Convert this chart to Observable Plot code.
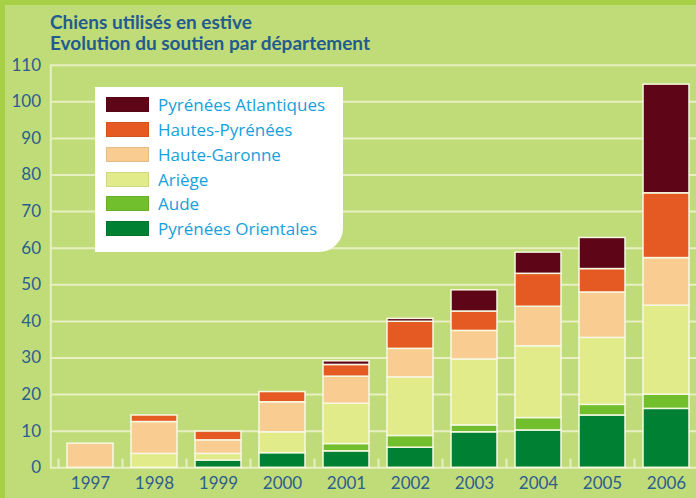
<!DOCTYPE html>
<html>
<head>
<meta charset="utf-8">
<script src="https://cdn.jsdelivr.net/npm/d3@7"></script>
<script src="https://cdn.jsdelivr.net/npm/@observablehq/plot@0.6"></script>
<style>
  html, body { margin: 0; padding: 0; }
  body { width: 696px; height: 498px; overflow: hidden; background: #bfdc78; }
  #wrap { position: relative; width: 696px; height: 498px; background: #bfdc78;
          box-shadow: inset 5px 5px 0 #a8d046; }
  #title { position: absolute; left: 50px; top: 11px; font-family: Lato, "Open Sans", sans-serif;
           font-weight: bold; font-size: 19px; line-height: 21px; color: #245b8e; }
  #title div { white-space: nowrap; }
  #chart { position: absolute; left: -5px; top: 50px; }
  #legend { position: absolute; left: 95px; top: 87px; width: 248px; height: 165px; background: #fff;
            border-bottom-right-radius: 24px; font-family: "Open Sans", Lato, sans-serif; }
  .row { position: absolute; left: 11px; height: 25px; display: flex; align-items: center; }
  .sw { width: 43px; height: 15px; margin-right: 9px; box-sizing: border-box; border: 1px solid rgba(0,0,0,0.08); }
  .lab { font-size: 17px; color: #16a0dc; }
</style>
</head>
<body>
<div id="wrap">
  <div id="title"><div>Chiens utilisés en estive</div><div>Evolution du soutien par département</div></div>
  <div id="chart"></div>
  <div id="legend"></div>
</div>
<script>
const years = ["1997","1998","1999","2000","2001","2002","2003","2004","2005","2006"];
const departements = ["Pyrénées Orientales","Aude","Ariège","Haute-Garonne","Hautes-Pyrénées","Pyrénées Atlantiques"];
const couleurs = ["#008033","#72bf2d","#e1eb89","#f9cc92","#e55a22","#5e0618"];
const pyreneesOrientales  = [0,   0,   2.0, 4.0, 4.5, 5.5, 9.7, 10.2, 14.3, 16.1];
const aude                = [0,   0,   0,   0,   2.0, 3.2, 1.9, 3.4,  2.9,  3.9];
const ariege              = [0,   3.8, 1.8, 5.7, 11.0,16.0,18.0,19.6, 18.3, 24.3];
const hauteGaronne        = [6.6, 8.7, 3.7, 8.2, 7.4, 7.8, 7.8, 10.8, 12.4, 13.0];
const hautesPyrenees      = [0,   1.8, 2.4, 2.8, 3.2, 7.4, 5.3, 9.0,  6.4,  17.7];
const pyreneesAtlantiques = [0,   0,   0,   0,   1.0, 0.8, 5.8, 5.8,  8.5,  29.7];
const yTicks = [0,10,20,30,40,50,60,70,80,90,100,110];

const series = [pyreneesOrientales, aude, ariege, hauteGaronne, hautesPyrenees, pyreneesAtlantiques];
const data = [];
series.forEach((vals, k) => vals.forEach((v, i) => { if (v > 0) data.push({year: years[i], dept: departements[k], value: v}); }));

const gridColor = "#e8efc2";
const textColor = "#2d5e8e";

const chart = Plot.plot({
  width: 701,
  height: 448,
  marginTop: 14.7,
  marginBottom: 30.7,
  marginLeft: 55,
  marginRight: 0,
  style: {background: "transparent", fontFamily: "Lato, 'Open Sans', sans-serif", overflow: "visible"},
  x: {domain: years, range: [62.7, 702.7], paddingInner: 0.28, paddingOuter: 0.14, axis: null},
  y: {domain: [0, 110], axis: null},
  color: {domain: departements, range: couleurs},
  marks: [
    Plot.ruleY(yTicks, {y: d => d, stroke: gridColor, strokeWidth: 2}),
    Plot.ruleX([years[0]], {x: d => d, y1: 0, y2: 110, dx: -39.7, stroke: gridColor, strokeWidth: 2}),
    Plot.ruleX(years, {x: d => d, y1: 0, y2: 2.4, dx: -32, stroke: gridColor, strokeWidth: 2}),
    Plot.barY(data, Plot.stackY({x: "year", y: "value", fill: "dept", order: departements, stroke: "#f7f8e2", strokeWidth: 1.5})),
    Plot.text(yTicks, {x: () => years[0], y: d => d, text: d => String(d), dx: -49.5, textAnchor: "end", fill: textColor, fontSize: 17}),
    Plot.text(years, {x: d => d, y: () => 0, text: d => d, dy: 16, fill: textColor, fontSize: 17})
  ]
});
document.getElementById("chart").appendChild(chart);

const legend = document.getElementById("legend");
departements.slice().reverse().forEach((d, j) => {
  const k = departements.indexOf(d);
  const row = document.createElement("div");
  row.className = "row";
  row.style.top = (4.8 + j * 24.9) + "px";
  row.innerHTML = `<div class="sw" style="background:${couleurs[k]}"></div><span class="lab">${d}</span>`;
  legend.appendChild(row);
});
</script>
</body>
</html>
